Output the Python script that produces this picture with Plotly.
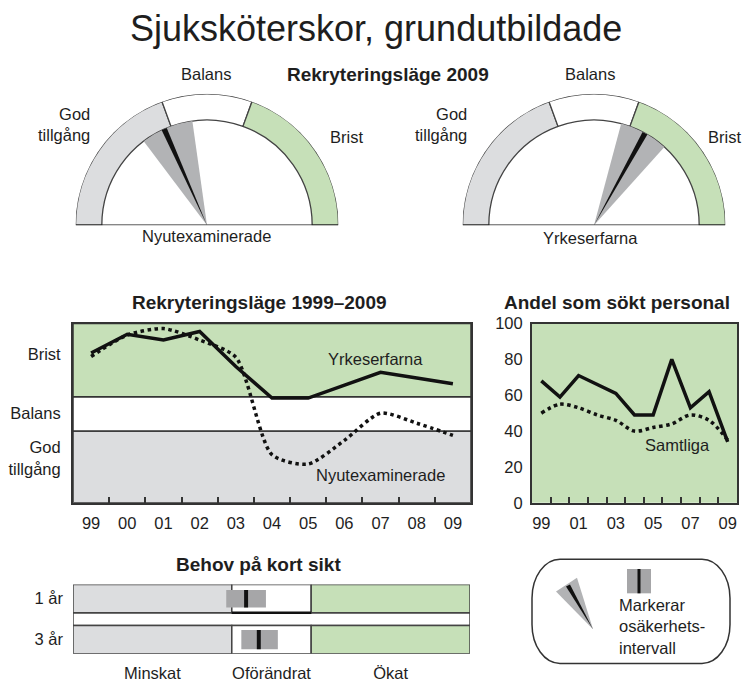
import plotly.graph_objects as go

W, H = 744, 689
def fx(p): return p / W
def fy(p): return 1 - p / H

FONT = "Liberation Sans, Arial, sans-serif"
TXT = "#1e1e1e"
GREEN = "#c6e0b8"
GRAY = "#dcdddf"
UNC = "#b2b3b5"
UNC_BOX = "#a6a6a8"
EDGE = "#444444"

# ---------------- data ----------------
# gauges (angles in degrees, 180 = God tillgång, 0 = Brist)
zone_names = ["God tillgång", "Balans", "Brist"]
zone_start = [180, 110, 70]
zone_end = [110, 70, 0]
zone_colors = [GRAY, "white", GREEN]

nyut_needle, nyut_lo, nyut_hi = 114, 98, 127
yrk_needle, yrk_lo, yrk_hi = 61, 48, 75

# Rekryteringsläge 1999-2009 (0-1 God tillgång, 1-1.48 Balans, 1.48-2.5 Brist)
years = ["99", "00", "01", "02", "03", "04", "05", "06", "07", "08", "09"]
yrk_level = [2.09, 2.35, 2.27, 2.39, 1.90, 1.46, 1.46, 1.64, 1.82, 1.74, 1.66]
nyut_level = [2.04, 2.34, 2.43, 2.27, 2.03, 0.67, 0.54, 0.87, 1.25, 1.11, 0.94]
band_lo = [0.0, 1.0, 1.48]
band_hi = [1.0, 1.48, 2.5]
band_colors = [GRAY, "white", GREEN]
level_labels = ["Brist", "Balans", "God<br>tillgång"]
level_pos = [2.07, 1.25, 0.62]

# Andel som sökt personal (%)
andel_sjuk = [68, 59, 71, 66, 61, 49, 49, 80, 53, 62, 34]
andel_samtliga = [50, 55, 53, 49, 46, 40, 42, 44, 49, 46, 35]
andel_ticktext = ["99", "", "01", "", "03", "", "05", "", "07", "", "09"]

# Behov på kort sikt
behov_rows = ["1 år", "3 år"]
behov_row_y = [1.95, 0.5]
behov_val = [2.18, 2.34]
behov_lo = [1.93, 2.12]
behov_hi = [2.43, 2.58]
behov_zone_names = ["Minskat", "Oförändrat", "Ökat"]
behov_zone_lo = [0, 2, 3]
behov_zone_hi = [2, 3, 5]
behov_zone_colors = [GRAY, "white", GREEN]

fig = go.Figure()

# ---------------- gauges ----------------
def add_gauge(polar, needle, lo, hi):
    fig.add_trace(go.Barpolar(
        r=[0.2] * 3, base=[0.8] * 3,
        theta=[(s + e) / 2 for s, e in zip(zone_start, zone_end)],
        width=[s - e for s, e in zip(zone_start, zone_end)],
        marker=dict(color=zone_colors, line=dict(color=EDGE, width=1.3)),
        subplot=polar, showlegend=False, hoverinfo="skip"))
    fig.add_trace(go.Barpolar(
        r=[0.8], base=[0], theta=[(lo + hi) / 2], width=[hi - lo],
        marker=dict(color=UNC, line=dict(width=0)),
        subplot=polar, showlegend=False, hoverinfo="skip"))
    fig.add_trace(go.Barpolar(
        r=[0.8], base=[0], theta=[needle], width=[3],
        marker=dict(color="#111111", line=dict(width=0)),
        subplot=polar, showlegend=False, hoverinfo="skip"))
    fig.add_trace(go.Scatterpolar(
        r=[1, 0, 1], theta=[180, 180, 0], mode="lines",
        line=dict(color="#111111", width=1.6), cliponaxis=False,
        subplot=polar, showlegend=False, hoverinfo="skip"))

add_gauge("polar", nyut_needle, nyut_lo, nyut_hi)
add_gauge("polar2", yrk_needle, yrk_lo, yrk_hi)

polar_common = dict(
    sector=[0, 180], hole=0, bgcolor="rgba(0,0,0,0)", barmode="overlay",
    radialaxis=dict(visible=False, range=[0, 1]),
    angularaxis=dict(visible=False, rotation=0, direction="counterclockwise"),
)
fig.update_layout(
    polar=dict(domain=dict(x=[fx(72), fx(342)], y=[fy(222), fy(87)]), **polar_common),
    polar2=dict(domain=dict(x=[fx(459), fx(729)], y=[fy(222), fy(87)]), **polar_common),
)

# ---------------- Rekryteringsläge 1999-2009 ----------------
fig.add_trace(go.Scatter(x=years, y=yrk_level, mode="lines",
                         line=dict(color="#111111", width=3.5),
                         xaxis="x", yaxis="y", showlegend=False))
fig.add_trace(go.Scatter(x=years, y=nyut_level, mode="lines",
                         line=dict(color="#111111", width=3.5, dash="dot",
                                   shape="spline", smoothing=0.7),
                         xaxis="x", yaxis="y", showlegend=False))
for lo, hi, c in zip(band_lo, band_hi, band_colors):
    fig.add_shape(type="rect", xref="x domain", yref="y", x0=0, x1=1, y0=lo, y1=hi,
                  fillcolor=c, line=dict(color="#333333", width=1.5), layer="below")

# ---------------- Andel som sökt personal ----------------
fig.add_trace(go.Scatter(x=years, y=andel_sjuk, mode="lines",
                         line=dict(color="#111111", width=3.5),
                         xaxis="x2", yaxis="y2", showlegend=False))
fig.add_trace(go.Scatter(x=years, y=andel_samtliga, mode="lines",
                         line=dict(color="#111111", width=3.5, dash="dot",
                                   shape="spline", smoothing=0.9),
                         xaxis="x2", yaxis="y2", showlegend=False))
fig.add_shape(type="rect", xref="x2 domain", yref="y2 domain", x0=0, x1=1, y0=0, y1=1,
              fillcolor=GREEN, line=dict(width=0), layer="below")

# ---------------- Behov på kort sikt ----------------
fig.add_trace(go.Bar(orientation="h", y=[1.225], x=[5], base=[0], width=[0.45],
                     marker=dict(color="white", line=dict(color=EDGE, width=1.5)),
                     xaxis="x3", yaxis="y3", showlegend=False, hoverinfo="skip"))
for lo, hi, c in zip(behov_zone_lo, behov_zone_hi, behov_zone_colors):
    fig.add_trace(go.Bar(orientation="h", y=behov_row_y, x=[hi - lo] * 2, base=[lo] * 2,
                         width=[1, 1],
                         marker=dict(color=c, line=dict(color=EDGE, width=1.5)),
                         xaxis="x3", yaxis="y3", showlegend=False, hoverinfo="skip"))
fig.add_trace(go.Bar(orientation="h", y=behov_row_y,
                     x=[h - l for l, h in zip(behov_lo, behov_hi)], base=behov_lo,
                     width=[0.62, 0.68],
                     marker=dict(color=UNC_BOX, line=dict(width=0)),
                     xaxis="x3", yaxis="y3", showlegend=False, hoverinfo="skip"))
fig.add_trace(go.Bar(orientation="h", y=behov_row_y,
                     x=[0.05, 0.05], base=[v - 0.025 for v in behov_val],
                     width=[0.62, 0.68],
                     marker=dict(color="#111111", line=dict(width=0)),
                     xaxis="x3", yaxis="y3", showlegend=False, hoverinfo="skip"))
# darker lower edge of the 1-år Oförändrat cell
fig.add_shape(type="line", xref="x3", yref="y3",
              x0=behov_zone_lo[1], x1=behov_zone_hi[1],
              y0=behov_row_y[0] - 0.5, y1=behov_row_y[0] - 0.5,
              line=dict(color="#111111", width=2.5))

axis_font = dict(family=FONT, size=16.5, color=TXT)
fig.update_layout(
    width=W, height=H, margin=dict(l=0, r=0, t=0, b=0),
    paper_bgcolor="white", plot_bgcolor="white", barmode="overlay",
    font=dict(family=FONT, color=TXT),
    xaxis=dict(domain=[fx(73), fx(471)], type="category", tickson="boundaries",
               ticks="inside", ticklen=6, tickwidth=1.5, tickcolor="#333333",
               showline=True, linecolor="#333333", linewidth=2, mirror=True,
               showgrid=False, zeroline=False, tickfont=axis_font, tickangle=0,
               range=[-0.5, 10.5], anchor="y", ticklabelstandoff=4),
    yaxis=dict(domain=[fy(507), fy(323)], range=[0, 2.5], tickvals=level_pos,
               ticktext=level_labels, ticks="", showline=True, linecolor="#333333",
               linewidth=2, mirror=True, showgrid=False, zeroline=False,
               tickfont=axis_font, anchor="x", ticklabelstandoff=7),
    xaxis2=dict(domain=[fx(532), fx(737)], type="category", tickson="boundaries",
                tickvals=years, ticktext=andel_ticktext, tickangle=0,
                ticks="inside", ticklen=6, tickwidth=1.5, tickcolor="#333333",
                showline=True, linecolor="#333333", linewidth=2, mirror=True,
                showgrid=False, zeroline=False, tickfont=axis_font,
                range=[-0.5, 10.5], anchor="y2", ticklabelstandoff=4),
    yaxis2=dict(domain=[fy(507), fy(323)], range=[0, 100], tickvals=[0, 20, 40, 60, 80, 100],
                ticks="", showline=True, linecolor="#333333", linewidth=2, mirror=True,
                showgrid=False, zeroline=False, tickfont=axis_font, anchor="x2",
                ticklabelstandoff=4),
    xaxis3=dict(domain=[fx(73), fx(470)], range=[0, 5],
                tickvals=[(l + h) / 2 for l, h in zip(behov_zone_lo, behov_zone_hi)],
                ticktext=behov_zone_names, ticks="", showline=False, showgrid=False,
                zeroline=False, tickfont=axis_font, anchor="y3", ticklabelstandoff=8),
    yaxis3=dict(domain=[fy(662), fy(591)], range=[0, 2.45], tickvals=behov_row_y,
                ticktext=behov_rows, ticks="", showline=False, showgrid=False,
                zeroline=False, tickfont=axis_font, anchor="x3", ticklabelstandoff=9),
)

# ---------------- texts ----------------
def ann(text, x, y, size=16.5, bold=False, xanchor="center", align="center"):
    fig.add_annotation(text=f"<b>{text}</b>" if bold else text, x=fx(x), y=fy(y),
                       xref="paper", yref="paper", showarrow=False,
                       xanchor=xanchor, yanchor="middle", align=align,
                       font=dict(family=FONT, size=size, color=TXT))

ann("Sjuksköterskor, grundutbildade", 376, 20, size=36)
ann("Rekryteringsläge 2009", 388, 67, size=19, bold=True)
ann("Rekryteringsläge 1999–2009", 259, 301, size=19, bold=True)
ann("Andel som sökt personal", 617, 301, size=19, bold=True)
ann("Behov på kort sikt", 258, 570, size=19, bold=True)

# gauge labels
ann("Balans", 206, 67)
ann("God<br>tillgång", 92, 119, xanchor="right", align="right")
ann("Brist", 328, 131, xanchor="left", align="left")
ann("Nyutexaminerade", 207, 233)
ann("Balans", 590, 67)
ann("God<br>tillgång", 469, 119, xanchor="right", align="right")
ann("Brist", 706, 131, xanchor="left", align="left")
ann("Yrkeserfarna", 590, 235)

# line labels
ann("Yrkeserfarna", 375, 359)
ann("Nyutexaminerade", 380, 479)
ann("Samtliga", 677, 448)

# legend box
ann("Markerar<br>osäkerhets-<br>intervall", 617, 634, xanchor="left", align="left")

L, R, T, B = 532, 730, 565, 672
rx, ry = 28, 40
k = 0.5523
box_path = (f"M {fx(L+rx)},{fy(T)} L {fx(R-rx)},{fy(T)} "
            f"C {fx(R-rx+k*rx)},{fy(T)} {fx(R)},{fy(T+ry-k*ry)} {fx(R)},{fy(T+ry)} "
            f"L {fx(R)},{fy(B-ry)} "
            f"C {fx(R)},{fy(B-ry+k*ry)} {fx(R-rx+k*rx)},{fy(B)} {fx(R-rx)},{fy(B)} "
            f"L {fx(L+rx)},{fy(B)} "
            f"C {fx(L+rx-k*rx)},{fy(B)} {fx(L)},{fy(B-ry+k*ry)} {fx(L)},{fy(B-ry)} "
            f"L {fx(L)},{fy(T+ry)} "
            f"C {fx(L)},{fy(T+ry-k*ry)} {fx(L+rx-k*rx)},{fy(T)} {fx(L+rx)},{fy(T)} Z")
fig.add_shape(type="path", path=box_path, xref="paper", yref="paper",
              line=dict(color="#333333", width=1.5), fillcolor="rgba(0,0,0,0)")

def poly(pts):
    return "M " + " L ".join(f"{fx(a)},{fy(b)}" for a, b in pts) + " Z"

fig.add_shape(type="path", path=poly([(593, 637), (556, 598), (577, 584)]),
              xref="paper", yref="paper", fillcolor=UNC, line=dict(width=0))
fig.add_shape(type="path", path=poly([(593, 637), (566, 593), (570, 591)]),
              xref="paper", yref="paper", fillcolor="#111111", line=dict(width=0))
fig.add_shape(type="rect", xref="paper", yref="paper", x0=fx(627), x1=fx(651),
              y0=fy(600), y1=fy(575), fillcolor=UNC_BOX, line=dict(width=0))
fig.add_shape(type="rect", xref="paper", yref="paper", x0=fx(637.5), x1=fx(640.5),
              y0=fy(600), y1=fy(575), fillcolor="#111111", line=dict(width=0))

fig.write_html("out.html", config={"displayModeBar": False},
               post_script="document.body.style.margin='0';")
